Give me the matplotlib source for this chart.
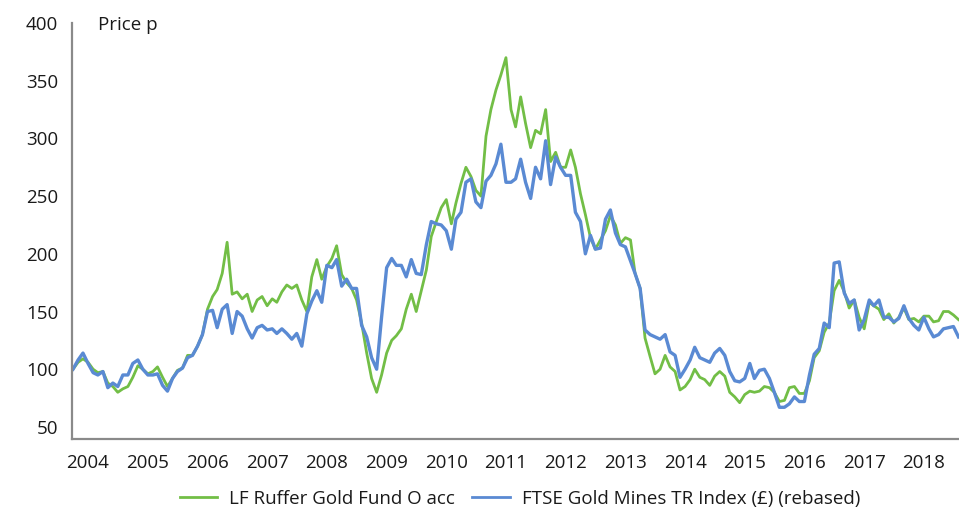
import matplotlib
matplotlib.use("Agg")
import matplotlib.pyplot as plt
import matplotlib.dates as mdates
import pandas as pd
import datetime as dt

plt.rcParams['font.family'] = ['Open Sans', 'DejaVu Sans']

# Monthly observations, Oct 2003 - Aug 2018
dates = pd.date_range('2003-10-01', periods=179, freq='MS')

ruffer_gold = [
    100, 106, 109, 106, 100, 97, 98, 88, 85, 80,
    83, 85, 93, 103, 100, 96, 98, 102, 93, 85,
    92, 99, 101, 112, 112, 120, 130, 152, 163, 169,
    183, 210, 165, 167, 161, 165, 150, 160,
    163, 155, 161, 158, 167, 173, 170, 173, 160, 150,
    180, 195, 178, 189, 196, 207, 182, 175, 170, 160,
    140, 114, 92, 80, 95, 114, 125, 129, 135, 152,
    165, 150, 168, 186, 215, 228,
    240, 247, 226, 244, 261, 275, 267, 255, 250, 302,
    325, 342, 355, 370, 325, 310, 336, 313, 292, 307,
    304, 325, 280, 288, 275, 275, 290, 275, 252, 234,
    214, 204, 212, 220, 233,
    225, 209, 214, 212, 183, 170, 127, 111, 96, 100,
    112, 102, 98, 82, 85, 91, 100, 93, 91, 86,
    94, 98, 94, 80, 76, 71, 78, 81, 80, 81,
    85, 84, 80, 72, 73, 84,
    85, 79, 79, 90, 110, 116, 132, 140, 168, 177,
    167, 153, 160, 145, 135, 158, 155, 152, 143, 148,
    140, 145, 153, 143, 144, 141, 146, 146, 141, 142,
    150, 150, 147, 143,
]

ftse_gold_mines = [
    100, 108, 114, 105, 97, 95, 98, 84, 88, 85,
    95, 95, 105, 108, 100, 95, 95, 96, 86, 81,
    92, 98, 101, 110, 112, 120, 130, 150, 151, 136,
    152, 156, 131, 150, 146, 135, 127, 136,
    138, 134, 135, 131, 135, 131, 126, 131, 120, 148,
    159, 168, 158, 190, 188, 195, 172, 178, 170, 170,
    138, 128, 110, 100, 145, 188, 196, 190, 190, 180,
    195, 183, 182, 208, 228, 226,
    225, 220, 204, 230, 236, 262, 265, 245, 240, 263,
    268, 278, 295, 262, 262, 265, 282, 262, 248, 275,
    265, 298, 260, 284, 275, 268, 268, 236, 228, 200,
    216, 204, 205, 230, 238,
    218, 208, 206, 194, 183, 170, 134, 130, 128, 126,
    130, 115, 112, 93, 100, 108, 119, 110, 108, 106,
    114, 118, 112, 98, 90, 89, 92, 105, 92, 99,
    100, 92, 80, 67, 67, 70,
    76, 72, 72, 95, 113, 118, 140, 136, 192, 193,
    166, 157, 160, 134, 143, 160, 155, 160, 145, 145,
    141, 144, 155, 144, 138, 134, 145, 135, 128, 130,
    135, 136, 137, 128,
]

series_names = ['LF Ruffer Gold Fund O acc', 'FTSE Gold Mines TR Index (£) (rebased)']
year_ticks = list(range(2004, 2019))
y_ticks = [50, 100, 150, 200, 250, 300, 350, 400]

green = '#72BE46'
blue = '#5A8AD3'

fig = plt.figure(figsize=(9.59, 5.13), dpi=100)
ax = fig.add_axes([0.0751, 0.1442, 0.9249, 0.8109])

ax.plot(dates, ruffer_gold, color=green, lw=2.0, label=series_names[0])
ax.plot(dates, ftse_gold_mines, color=blue, lw=2.4, label=series_names[1])

ax.set_ylim(39.5, 400)
ax.set_xlim(dt.datetime(2003, 9, 25), dt.datetime(2018, 8, 4))
ax.set_yticks(y_ticks)
ax.set_xticks([dt.datetime(y, 1, 1) for y in year_ticks])
ax.xaxis.set_major_formatter(mdates.DateFormatter('%Y'))

for s in ['top', 'right']:
    ax.spines[s].set_visible(False)
for s in ['left', 'bottom']:
    ax.spines[s].set_color('#8a8a8a')
    ax.spines[s].set_linewidth(1.6)

ax.tick_params(axis='both', length=0, labelsize=13.5, colors='#1a1a1a')
ax.tick_params(axis='y', pad=10)
ax.tick_params(axis='x', pad=11)

fig.text(98 / 959, 1 - 25 / 513, 'Price p', fontsize=13.5, color='#1a1a1a', ha='left', va='center')

leg = fig.legend(loc='center', bbox_to_anchor=(520 / 959, 1 - 499 / 513), ncol=2, frameon=False,
                 fontsize=13.5, handlelength=2.0, handletextpad=0.65, columnspacing=0.9,
                 labelcolor='#1a1a1a')
for h in leg.legend_handles:
    h.set_linewidth(2.0)

fig.savefig('out.png', dpi=100)
